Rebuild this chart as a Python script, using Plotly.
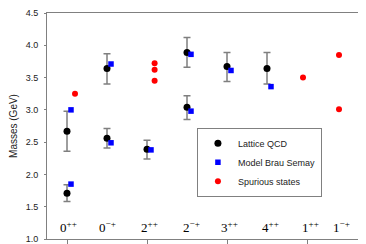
import plotly.graph_objects as go

# Categories (J^PC)
cat_base = ["0", "0", "2", "2", "3", "4", "1", "1"]
cat_sup = ["++", "\u2212+", "++", "\u2212+", "++", "++", "++", "\u2212+"]
cat_pos = [0, 1, 2, 3, 4, 5, 6, 7]
label_shift = [0.03, 0.0, 0.05, 0.12, 0.05, 0.08, 0.08, -0.15]

# Lattice QCD (category index, mass, +err, -err)
lat_cat = [0, 0, 1, 1, 2, 3, 3, 4, 5]
lat_mass = [1.71, 2.67, 2.56, 3.64, 2.39, 3.04, 3.89, 3.67, 3.64]
lat_err_p = [0.13, 0.31, 0.15, 0.23, 0.14, 0.18, 0.23, 0.22, 0.25]
lat_err_m = [0.13, 0.31, 0.15, 0.24, 0.15, 0.19, 0.23, 0.23, 0.24]

# Model Brau Semay
mod_cat = [0, 0, 1, 1, 2, 3, 3, 4, 5]
mod_mass = [1.85, 3.00, 2.49, 3.71, 2.38, 2.98, 3.86, 3.61, 3.36]

# Spurious states
spu_cat = [0, 2, 2, 2, 6, 7, 7]
spu_mass = [3.25, 3.72, 3.62, 3.45, 3.50, 3.85, 3.01]
spu_shift = [0.2, 0.19, 0.19, 0.19, -0.1, -0.2, -0.2]

mod_shift = 0.1

fig = go.Figure()
fig.add_trace(go.Scatter(
    x=lat_cat, y=lat_mass, mode="markers", name="Lattice QCD",
    marker=dict(symbol="circle", size=7, color="black"),
    error_y=dict(type="data", symmetric=False, array=lat_err_p, arrayminus=lat_err_m,
                 color="#7f7f7f", thickness=1.5, width=3.5),
))
fig.add_trace(go.Scatter(
    x=[c + mod_shift for c in mod_cat], y=mod_mass, mode="markers", name="Model Brau Semay",
    marker=dict(symbol="square", size=5.5, color="#0000ff"),
))
fig.add_trace(go.Scatter(
    x=[c + s for c, s in zip(spu_cat, spu_shift)], y=spu_mass, mode="markers", name="Spurious states",
    marker=dict(symbol="circle", size=6, color="#ff0000"),
))

for b, s, p, sh in zip(cat_base, cat_sup, cat_pos, label_shift):
    fig.add_annotation(x=p + sh, y=1.19, xref="x", yref="y", text=f"{b}<sup>{s}</sup>",
                       showarrow=False, font=dict(family="Liberation Serif", size=13, color="black"),
                       xanchor="center", yanchor="middle")

# page body has an 8px default margin: figure is sized so the plot lands where the reference has it
fig.update_layout(
    width=358, height=236,
    margin=dict(l=39, r=0, t=1, b=4),
    paper_bgcolor="white", plot_bgcolor="white",
    font=dict(family="Liberation Sans", size=9, color="#222222"),
    showlegend=True,
    legend=dict(x=0.47, y=0.34, xanchor="left", yanchor="middle",
                bgcolor="white", bordercolor="#808080", borderwidth=1,
                font=dict(family="Liberation Sans", size=9, color="#222222"),
                itemwidth=30, tracegroupgap=0),
)
fig.update_xaxes(range=[-0.5, 7.475], showgrid=False, zeroline=False,
                 tickvals=[0, 2, 4, 6], showticklabels=False,
                 ticks="outside", ticklen=4, tickcolor="#808080",
                 showline=True, linecolor="#808080", linewidth=1, mirror=True)
fig.update_yaxes(range=[1.0, 4.5], dtick=0.5, tick0=1.0, tickformat=".1f",
                 showgrid=False, zeroline=False,
                 ticks="outside", ticklen=2, tickcolor="#808080",
                 showline=True, linecolor="#808080", linewidth=1,
                 ticklabeloverflow="allow",
                 title=dict(text="Masses (GeV)", font=dict(size=10, color="#222222"), standoff=8),
                 ticklabelstandoff=4)

fig.write_html("out.html")
